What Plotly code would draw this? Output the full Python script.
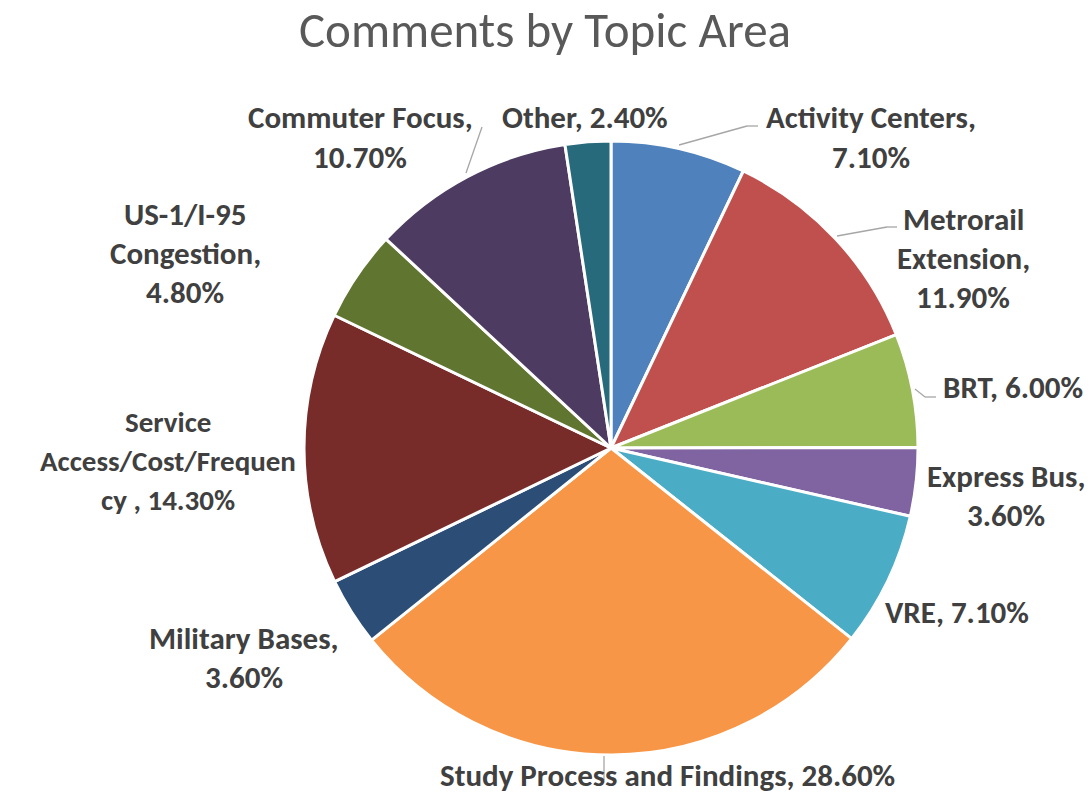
import plotly.graph_objects as go

# ---- data ----
topics = ["Activity Centers", "Metrorail Extension", "BRT", "Express Bus", "VRE",
          "Study Process and Findings", "Military Bases",
          "Service Access/Cost/Frequency ", "US-1/I-95 Congestion",
          "Commuter Focus", "Other"]
shares = [7.1, 11.9, 6.0, 3.6, 7.1, 28.6, 3.6, 14.3, 4.8, 10.7, 2.4]
label_lines = [
    ["Activity Centers,", "7.10%"],
    ["Metrorail", "Extension,", "11.90%"],
    ["BRT, 6.00%"],
    ["Express Bus,", "3.60%"],
    ["VRE, 7.10%"],
    ["Study Process and Findings, 28.60%"],
    ["Military Bases,", "3.60%"],
    ["Service", "Access/Cost/Frequen", "cy , 14.30%"],
    ["US-1/I-95", "Congestion,", "4.80%"],
    ["Commuter Focus,", "10.70%"],
    ["Other, 2.40%"],
]

# ---- styles / layout ----
colors = ["#4F81BD", "#C0504D", "#9BBB59", "#8064A2", "#4BACC6", "#F79646",
          "#2C4D75", "#772C2A", "#5F7530", "#4D3B62", "#276A7C"]
W, H = 1090, 793
# label block centres in pixels (x, y of block centre)
label_pos = [(871, 137), (963, 258), (1013, 387), (1006, 495), (957, 612),
             (667, 775), (244, 657), (168, 461), (185, 253), (360, 137), (585, 117)]
label_size = [31, 31, 31, 31, 31, 31, 31, 29, 31, 31, 31]
LINE_H = 39
leaders = [  # polylines in pixels
    [(679, 145), (747, 126), (758, 126)],
    [(837, 236), (887, 227), (897, 227)],
    [(915, 389), (925, 397), (936, 397)],
    [(466, 173), (482, 127)],
    [(604, 756), (604, 780)],
]

font_family = "Carlito, Lato, 'Open Sans', sans-serif"

fig = go.Figure(go.Pie(
    labels=topics, values=shares, sort=False, direction="clockwise", rotation=0,
    marker=dict(colors=colors, line=dict(color="white", width=3)),
    textinfo="none", hoverinfo="label+percent", showlegend=False,
    domain=dict(x=[304 / W, 918 / W], y=[1 - 755 / H, 1 - 141 / H]),
))

annotations = []
for lines, (cx, cy), fs in zip(label_lines, label_pos, label_size):
    n = len(lines)
    for i, t in enumerate(lines):
        y = cy + (i - (n - 1) / 2) * LINE_H
        annotations.append(dict(
            text=t, x=cx / W, y=1 - y / H, xref="paper", yref="paper",
            xanchor="center", yanchor="middle", showarrow=False,
            font=dict(family=font_family, size=fs, color="#404040", weight="bold"),
        ))

shapes = []
for pl in leaders:
    for (x0, y0), (x1, y1) in zip(pl[:-1], pl[1:]):
        shapes.append(dict(type="line", xref="paper", yref="paper",
                           x0=x0 / W, y0=1 - y0 / H, x1=x1 / W, y1=1 - y1 / H,
                           line=dict(color="#A6A6A6", width=1.3)))

fig.update_layout(
    width=W, height=H, margin=dict(l=0, r=0, t=0, b=0),
    paper_bgcolor="white", plot_bgcolor="white",
    title=dict(text="Comments by Topic Area", x=0.5, xanchor="center",
               y=1 - 30 / H, yanchor="middle",
               font=dict(family=font_family, size=49, color="#595959")),
    annotations=annotations, shapes=shapes,
)

fig.write_html("out.html", config={"displayModeBar": False},
               post_script="document.body.style.margin='0';document.body.style.overflow='hidden';")
